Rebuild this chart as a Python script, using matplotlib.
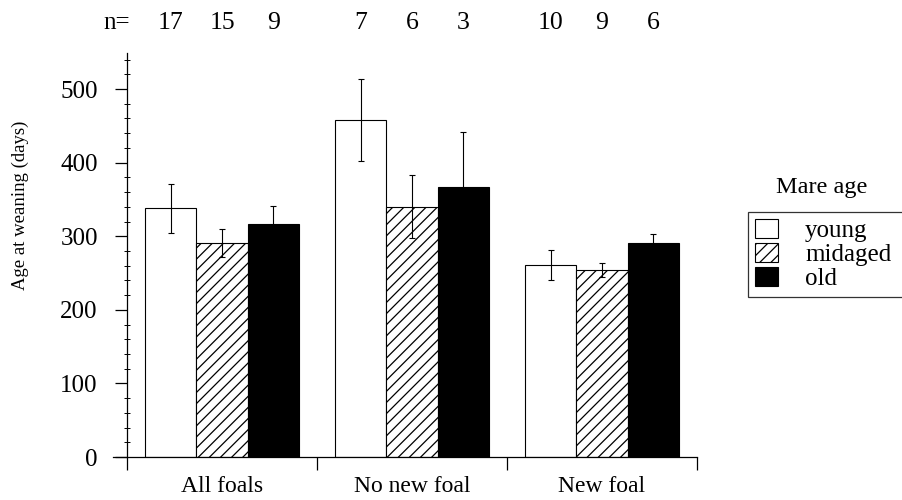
import matplotlib.pyplot as plt
import matplotlib.transforms as mtransforms
from matplotlib.patches import Patch
import numpy as np

plt.rcParams['font.family'] = ['Liberation Serif', 'DejaVu Serif']

groups = ["All foals", "No new foal", "New foal"]
series = ["young", "midaged", "old"]
means = {
    "young":   [338, 458, 261],
    "midaged": [291, 340, 254],
    "old":     [317, 367, 291],
}
errs = {
    "young":   [33, 56, 20],
    "midaged": [19, 43, 10],
    "old":     [24, 75, 12],
}
counts = {
    "young":   [17, 7, 10],
    "midaged": [15, 6, 9],
    "old":     [9, 3, 6],
}

fills = {"young": "white", "midaged": "white", "old": "black"}
hatches = {"young": None, "midaged": "///", "old": None}

fig = plt.figure(figsize=(9.02, 5), dpi=100)
ax = fig.add_axes([113 / 902, 1 - 457 / 500, (697 - 113) / 902, (457 - 53) / 500])

width = 0.27
centers = np.arange(len(groups)) + 0.5
offsets = [-width, 0, width]

# x in data, y in figure coords, for the n= row
ntrans = mtransforms.blended_transform_factory(ax.transData, fig.transFigure)

plt.rcParams['hatch.linewidth'] = 0.9
for off, name in zip(offsets, series):
    ax.bar(centers + off, means[name], width, color=fills[name],
           edgecolor="black", linewidth=0.8, hatch=hatches[name])
    ax.errorbar(centers + off, means[name], yerr=errs[name], fmt="none",
                ecolor="black", elinewidth=0.8, capsize=2, capthick=0.8)
    for x, n in zip(centers + off, counts[name]):
        ax.text(x, 1 - 23 / 500, str(n), transform=ntrans,
                ha="center", va="center", fontsize=18.5)

fig.text(117 / 902, 1 - 23 / 500, "n=", ha="center", va="center", fontsize=18)

ax.set_xlim(-14 / 190, 3.0)
ax.set_ylim(0, 549)
ax.spines["top"].set_visible(False)
ax.spines["right"].set_visible(False)
ax.spines["left"].set_position(("data", 0))
ax.spines["left"].set_linewidth(0.9)
ax.spines["bottom"].set_linewidth(0.9)

ax.set_xticks([0, 1, 2, 3])
ax.set_xticklabels([])
ax.set_xticks(centers, minor=True)
ax.set_xticklabels(groups, minor=True, fontsize=17)
ax.tick_params(axis="x", which="major", direction="out", length=9.5, width=0.9)
ax.tick_params(axis="x", which="minor", length=0, pad=14)

ax.set_yticks(np.arange(0, 501, 100))
ax.set_yticks(np.arange(0, 541, 20), minor=True)
ax.tick_params(axis="y", which="major", direction="out", length=9, width=0.9,
               labelsize=18, pad=12)
ax.tick_params(axis="y", which="minor", direction="inout", length=5, width=0.7)

fig.text(20 / 902, 1 - 205 / 500, "Age at weaning (days)", rotation=90,
         ha="center", va="center", fontsize=13.5)

handles = [Patch(facecolor=fills[s], edgecolor="black", hatch=hatches[s], linewidth=0.8)
           for s in series]
leg = fig.legend(handles, series, loc="upper left", mode="expand",
                 bbox_to_anchor=(748 / 902, 1 - 212 / 500, 180 / 902, 0),
                 fontsize=18, frameon=True, fancybox=False, edgecolor="black",
                 borderpad=0.28, labelspacing=0.03, handlelength=0.9,
                 handleheight=0.8, handletextpad=1.1, borderaxespad=0)
leg.get_frame().set_linewidth(0.9)
fig.text(822 / 902, 1 - 187 / 500, "Mare age", ha="center", va="center", fontsize=17.5)

fig.savefig("out.png", dpi=100)
